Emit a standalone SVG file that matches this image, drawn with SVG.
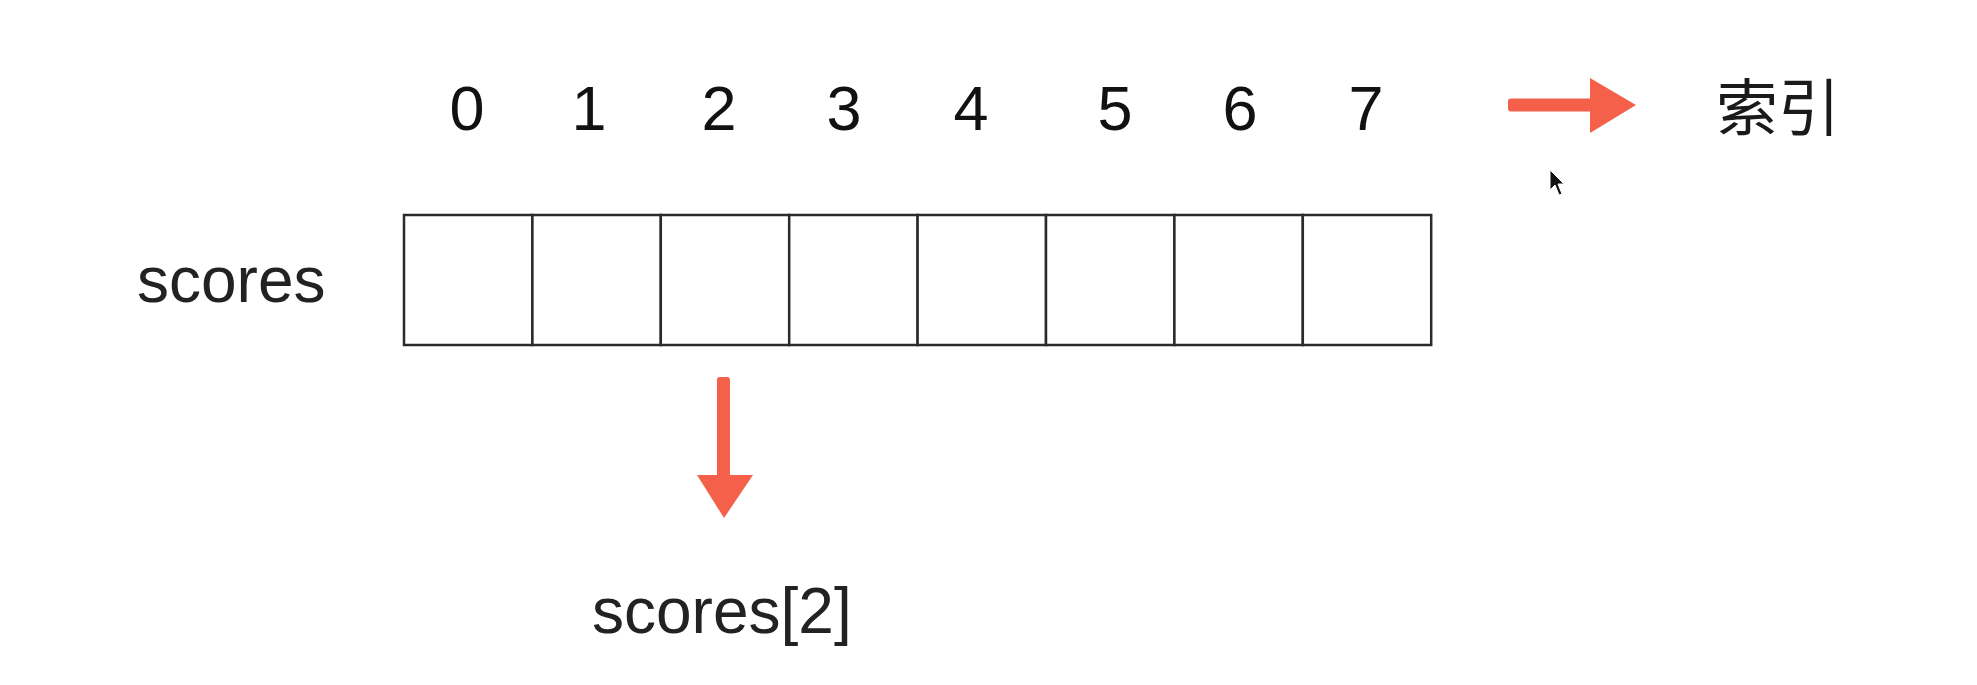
<svg xmlns="http://www.w3.org/2000/svg" width="1977" height="685" viewBox="0 0 1977 685">
  <style>
    .cell { fill: #ffffff; stroke: #2b2b2b; stroke-width: 2.5; }
    .idx { font-family: "Liberation Sans", Arial, sans-serif; font-size: 63px; fill: #111; text-anchor: middle; }
    .lbl { font-family: "Liberation Sans", Arial, sans-serif; font-size: 64px; fill: #222; }
    .cjk { font-family: "Liberation Sans", "Noto Sans CJK SC", sans-serif; font-size: 62px; fill: #1a1a1a; }
    .arrow { fill: #F4604A; }
  </style>
  <rect width="1977" height="685" fill="#ffffff"/>

  <g id="index-labels">
    <text class="idx" x="467" y="130">0</text>
    <text class="idx" x="589" y="130">1</text>
    <text class="idx" x="719" y="130">2</text>
    <text class="idx" x="844" y="130">3</text>
    <text class="idx" x="971" y="130">4</text>
    <text class="idx" x="1115" y="130">5</text>
    <text class="idx" x="1240" y="130">6</text>
    <text class="idx" x="1366" y="130">7</text>
  </g>

  <g id="index-caption">
    <text class="cjk" x="1716" y="131">索引</text>
  </g>

  <g id="array-name">
    <text class="lbl" x="137" y="302">scores</text>
  </g>

  <g id="array">
    <g id="cell-0"><rect class="cell" x="404" y="215" width="128.4" height="130"/></g>
    <g id="cell-1"><rect class="cell" x="532.4" y="215" width="128.4" height="130"/></g>
    <g id="cell-2"><rect class="cell" x="660.8" y="215" width="128.4" height="130"/></g>
    <g id="cell-3"><rect class="cell" x="789.2" y="215" width="128.4" height="130"/></g>
    <g id="cell-4"><rect class="cell" x="917.6" y="215" width="128.4" height="130"/></g>
    <g id="cell-5"><rect class="cell" x="1046" y="215" width="128.4" height="130"/></g>
    <g id="cell-6"><rect class="cell" x="1174.4" y="215" width="128.4" height="130"/></g>
    <g id="cell-7"><rect class="cell" x="1302.8" y="215" width="128.4" height="130"/></g>
  </g>

  <g id="element-label">
    <text class="lbl" x="592" y="633">scores[2]</text>
  </g>

  <g id="connectors">
    <g id="arrow-index">
      <rect class="arrow" x="1508" y="98.5" width="88" height="13" rx="3"/>
      <polygon class="arrow" points="1590,78 1636,105 1590,133"/>
    </g>
    <g id="arrow-element">
      <rect class="arrow" x="717" y="377" width="13" height="104" rx="3"/>
      <polygon class="arrow" points="697,475 753,475 724,518"/>
    </g>
  </g>

  <g id="cursor">
    <path d="M1550,170 L1550,190 L1555,185 L1559,195 L1562,194 L1558,184 L1564,184 Z" fill="#111" stroke="#fff" stroke-width="1"/>
  </g>
</svg>
